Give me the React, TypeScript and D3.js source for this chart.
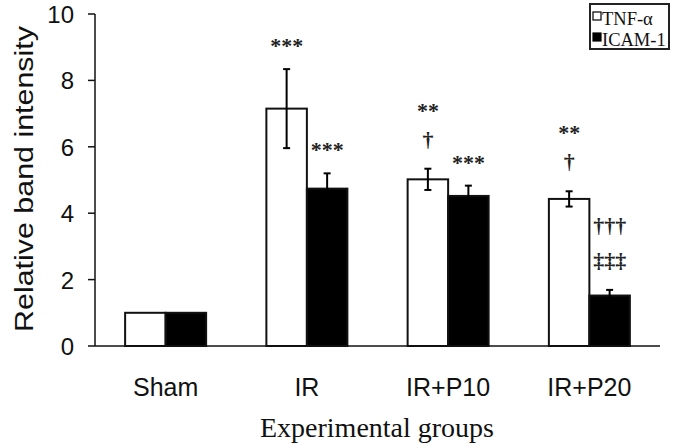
import React from "react";
import * as d3 from "d3";

const groups = ["Sham", "IR", "IR+P10", "IR+P20"];
const seriesNames = ["TNF-α", "ICAM-1"];
const tnfValues = [1.0, 7.15, 5.02, 4.43];
const tnfErrors = [0, 1.19, 0.32, 0.23];
const icamValues = [1.0, 4.74, 4.52, 1.52];
const icamErrors = [0, 0.46, 0.31, 0.17];
const tnfMarks: string[][] = [[], ["***"], ["†", "**"], ["†", "**"]];
const icamMarks: string[][] = [[], ["***"], ["***"], ["‡‡‡", "†††"]];
const yTicks = [0, 2, 4, 6, 8, 10];
const xTitle = "Experimental groups";
const yTitle = "Relative band intensity";

const W = 677;
const H = 444;

export default function App() {
  const x0 = d3.scaleBand().domain(groups).range([95, 660]).paddingInner(0).paddingOuter(0);
  const barW = 40.5;
  const y = d3.scaleLinear().domain([0, 10]).range([346, 14]);

  const series = [
    { name: seriesNames[0], values: tnfValues, errors: tnfErrors, marks: tnfMarks, fill: "#ffffff" },
    { name: seriesNames[1], values: icamValues, errors: icamErrors, marks: icamMarks, fill: "#000000" },
  ];

  const serif = "'Liberation Serif', 'Times New Roman', serif";
  const sans = "'Liberation Sans', Arial, sans-serif";

  return (
    <svg width={W} height={H} style={{ position: "absolute", left: 0, top: 0, background: "#fff" }}>
      {series.map((s, si) =>
        groups.map((g, gi) => {
          const cx = (x0(g) as number) + x0.bandwidth() / 2;
          const bx = cx - barW + si * barW;
          const top = y(s.values[gi]);
          const mid = bx + barW / 2;
          const err = s.errors[gi];
          const eTop = y(s.values[gi] + err);
          const eBot = y(s.values[gi] - err);
          return (
            <g key={`${si}-${gi}`}>
              <rect x={bx} y={top} width={barW} height={y(0) - top} fill={s.fill} stroke="#111" strokeWidth={2} />
              {err > 0 && (
                <g stroke="#000" strokeWidth={2}>
                  <line x1={mid} x2={mid} y1={eTop} y2={eBot} />
                  <line x1={mid - 3.5} x2={mid + 3.5} y1={eTop} y2={eTop} />
                  <line x1={mid - 3.5} x2={mid + 3.5} y1={eBot} y2={eBot} />
                </g>
              )}
              {s.marks[gi].map((m, mi) => {
                const center = eTop - 28 - 35 * mi;
                const isStar = m.includes("*");
                const base = center + (isStar ? 12 : 6);
                return (
                  <text
                    key={mi}
                    x={mid}
                    y={base}
                    textAnchor="middle"
                    fontFamily={serif}
                    fontSize={22}
                    fontWeight="bold"
                    fill="#222"
                  >
                    {m}
                  </text>
                );
              })}
            </g>
          );
        })
      )}

      <line x1={95} x2={95} y1={y(10)} y2={y(0)} stroke="#111" strokeWidth={1.5} />
      {yTicks.map((t) => (
        <g key={t}>
          <line x1={88} x2={95} y1={y(t)} y2={y(t)} stroke="#111" strokeWidth={1.5} />
          <text x={74} y={y(t) + 9} textAnchor="end" fontFamily={sans} fontSize={24} fill="#111">
            {t}
          </text>
        </g>
      ))}
      <line x1={95} x2={660} y1={y(0)} y2={y(0)} stroke="#111" strokeWidth={1.5} />
      {groups.map((g) => (
        <text
          key={g}
          x={(x0(g) as number) + x0.bandwidth() / 2}
          y={396}
          textAnchor="middle"
          fontFamily={sans}
          fontSize={25}
          fill="#111"
        >
          {g}
        </text>
      ))}
      <text x={377} y={437} textAnchor="middle" fontFamily={serif} fontSize={28} fill="#111">
        {xTitle}
      </text>
      <text
        transform="translate(33,179) rotate(-90)"
        textAnchor="middle"
        fontFamily={sans}
        fontSize={26}
        textLength={306}
        lengthAdjust="spacingAndGlyphs"
        fill="#111"
      >
        {yTitle}
      </text>

      <rect x={590} y={4} width={79} height={45} fill="#fff" stroke="#222" strokeWidth={2} />
      {series.map((s, i) => (
        <g key={s.name}>
          <rect x={593} y={12 + i * 21} width={8} height={8} fill={s.fill} stroke="#000" strokeWidth={1.2} />
          <text x={602} y={25 + i * 21} fontFamily={serif} fontSize={18.5} fill="#111">
            {s.name}
          </text>
        </g>
      ))}
    </svg>
  );
}
